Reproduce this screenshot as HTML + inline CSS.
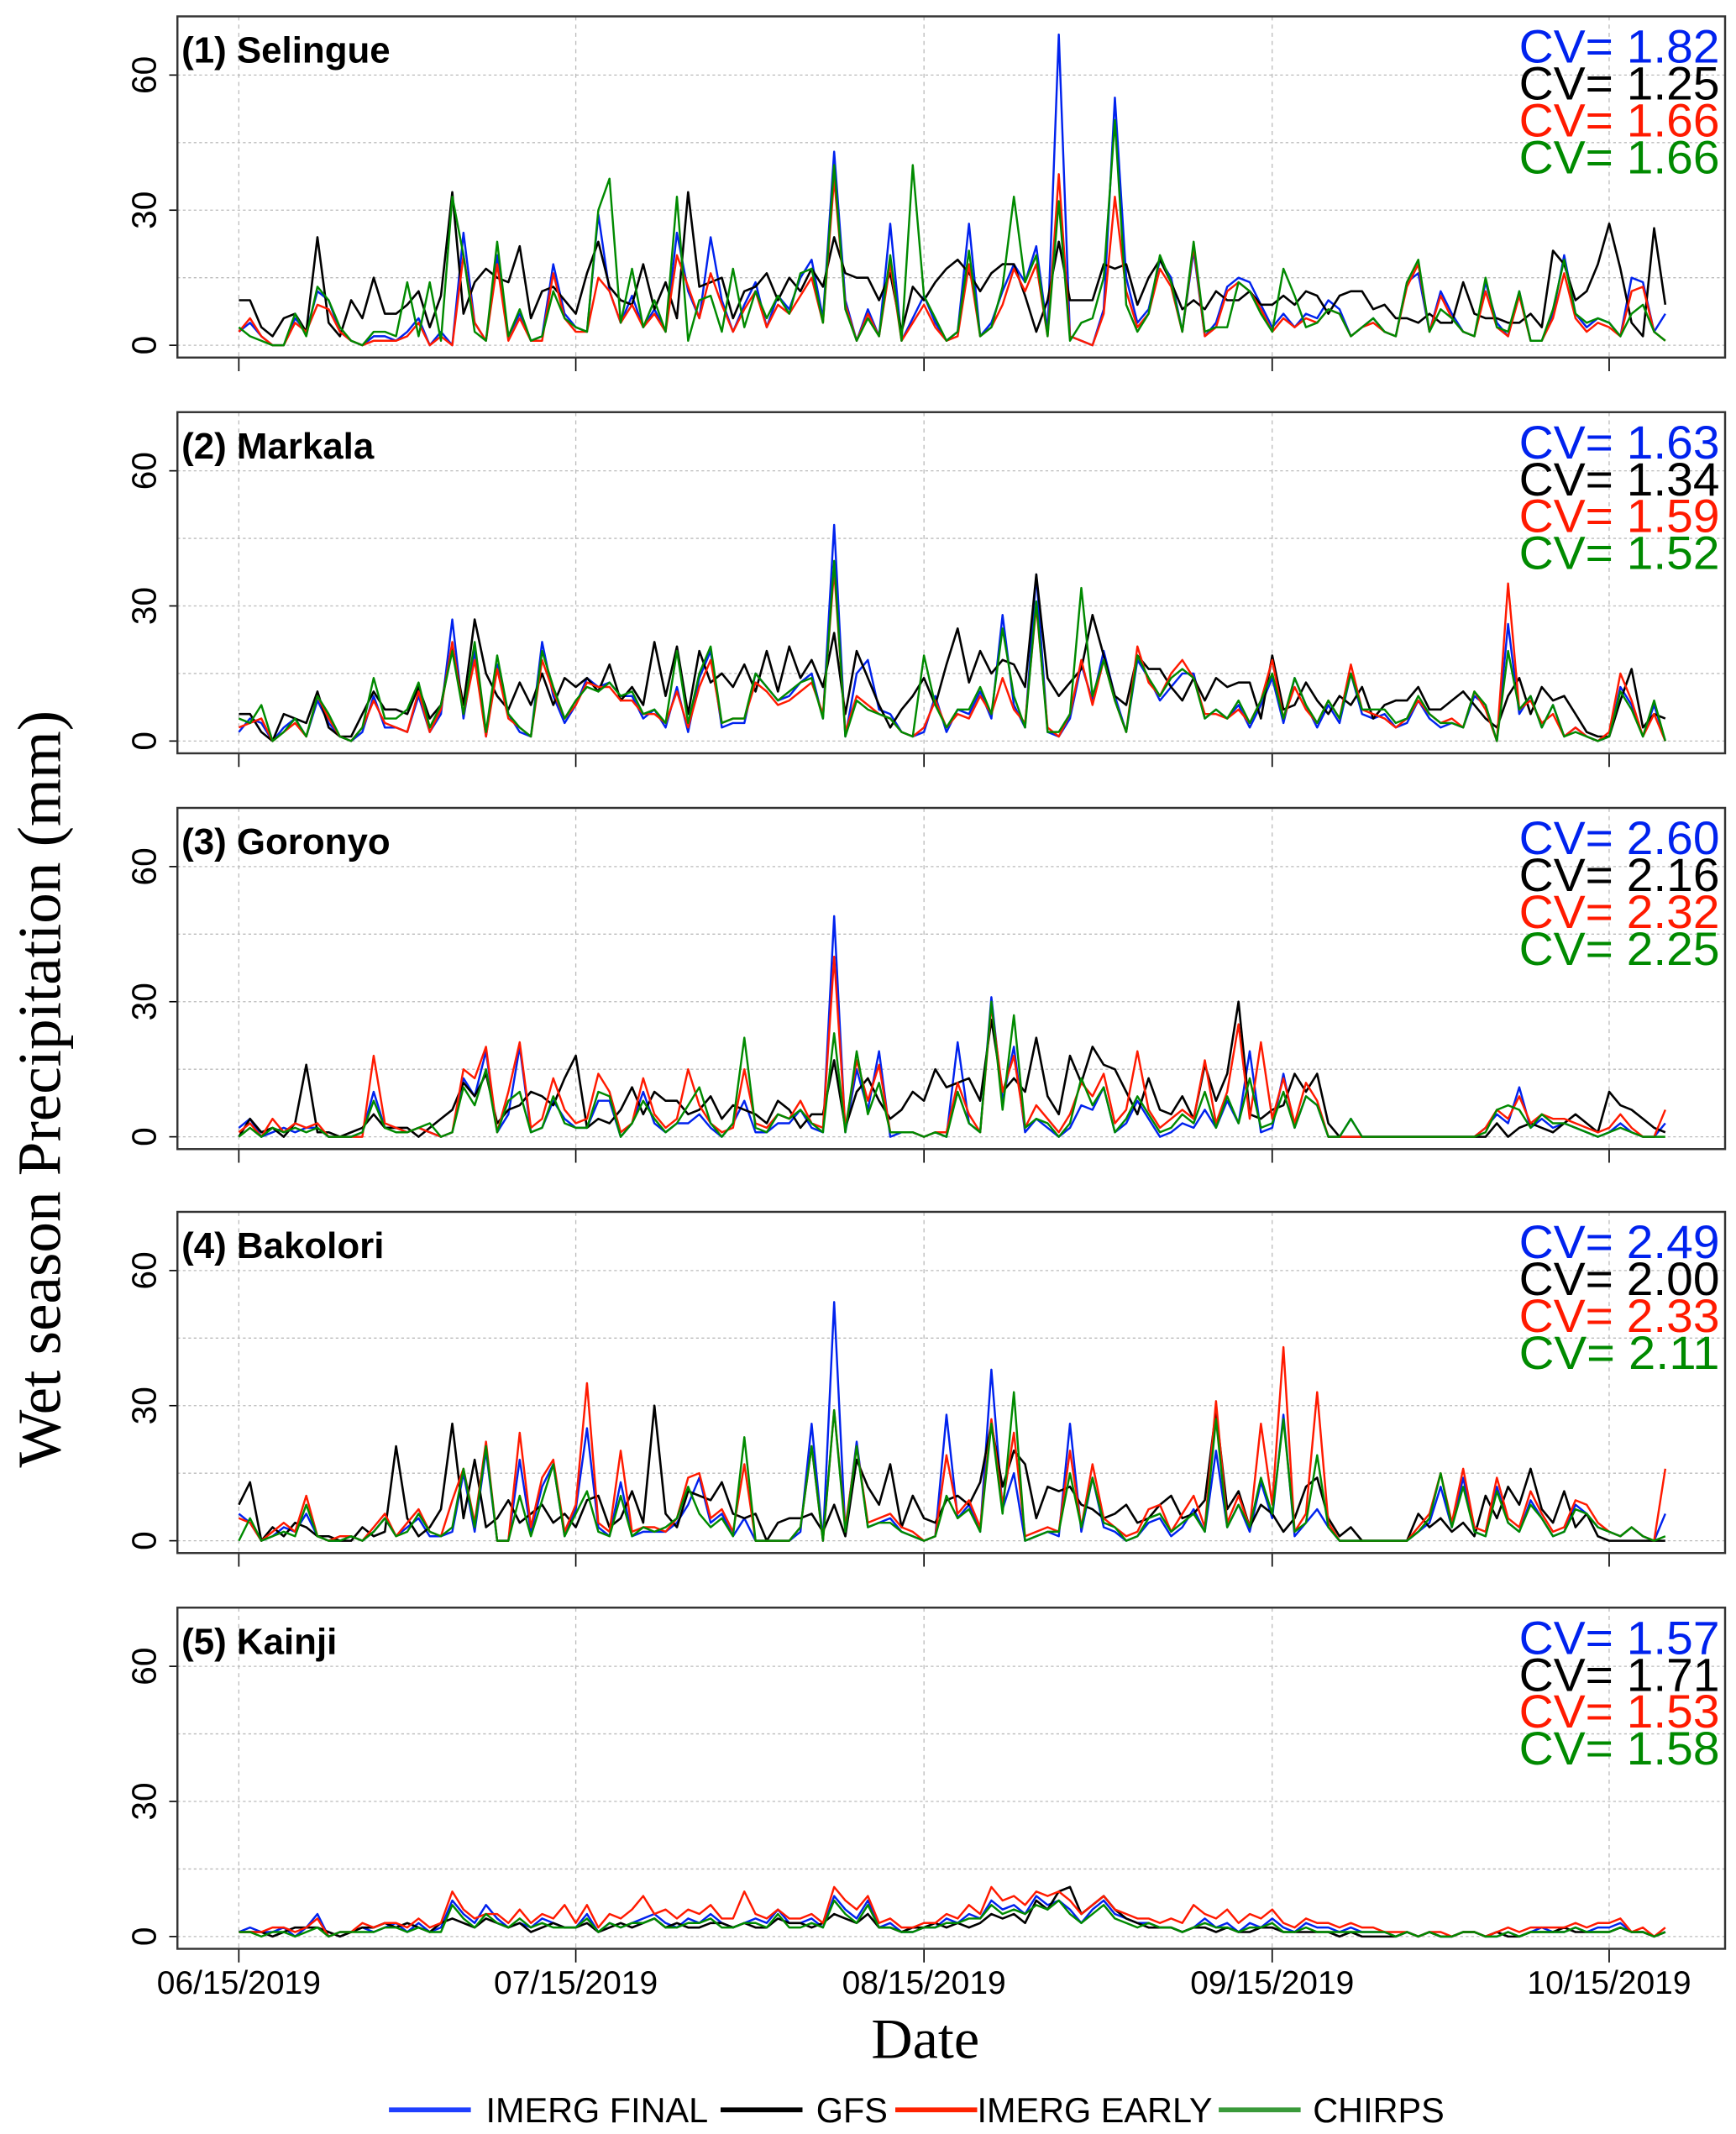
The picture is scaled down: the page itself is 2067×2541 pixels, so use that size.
<!DOCTYPE html>
<html><head><meta charset="utf-8"><style>
html,body{margin:0;padding:0;background:#fff}
svg{display:block}
</style></head><body>
<svg id="chart" width="2067" height="2541" viewBox="0 0 1272 1563.7" preserveAspectRatio="none" xmlns="http://www.w3.org/2000/svg" font-family="Liberation Sans, sans-serif"></svg>
<script>
const siteNames = ["(1) Selingue","(2) Markala","(3) Goronyo","(4) Bakolori","(5) Kainji"];
const cvFinal = ["1.82","1.63","2.60","2.49","1.57"];
const cvGfs = ["1.25","1.34","2.16","2.00","1.71"];
const cvEarly = ["1.66","1.59","2.32","2.33","1.53"];
const cvChirps = ["1.66","1.52","2.25","2.11","1.58"];
const dateTicks = [0,30,61,92,122];
const dateLabels = ["06/15/2019","07/15/2019","08/15/2019","09/15/2019","10/15/2019"];
const yTicks = [0,30,60];
const yGrid = [0,15,30,45,60];

const final1 = [3,5,2,0,0,6,3,12,10,3,1,0,2,2,1,3,6,0,3,0,25,5,1,20,2,7,1,2,18,7,4,3,29,12,5,11,4,8,3,25,12,6,24,10,3,9,14,4,11,8,15,19,6,43,10,1,8,2,27,1,6,11,5,1,3,27,2,5,12,18,14,22,3,69,2,1,0,8,55,15,5,8,19,15,3,21,2,5,13,15,14,9,4,7,4,7,6,10,8,2,4,6,3,2,14,16,3,12,7,3,2,14,5,2,12,1,1,7,20,7,4,6,5,2,15,14,3,7];
const early1 = [3,6,2,0,0,5,3,9,8,3,1,0,1,1,1,2,5,0,2,0,20,5,1,18,1,6,1,1,16,6,3,3,15,12,5,9,4,7,3,20,13,6,16,9,3,8,12,4,9,7,11,15,5,37,9,1,7,2,18,1,5,9,4,1,2,18,2,4,9,17,12,18,2,38,2,1,0,7,33,12,4,7,17,13,3,22,2,4,12,14,12,8,3,6,4,6,5,8,7,2,4,5,3,2,13,18,3,11,6,3,2,12,4,2,11,1,1,6,16,6,3,5,4,2,12,13,3,1];
const chirps1 = [4,2,1,0,0,7,2,13,10,4,1,0,3,3,2,14,2,14,1,33,20,3,1,23,2,8,1,2,12,6,4,3,30,37,5,17,4,10,3,33,1,10,11,3,17,4,12,6,11,7,16,17,5,40,8,1,6,2,20,1,40,11,6,1,3,21,2,4,13,33,14,20,2,32,1,5,6,15,50,9,3,7,20,14,3,23,3,4,4,14,12,7,3,17,11,4,5,8,7,2,4,6,3,2,14,19,3,8,6,3,2,15,4,3,12,1,1,8,19,7,5,6,5,2,7,9,3,1];
const gfs1 = [10,10,4,2,6,7,3,24,5,2,10,6,15,7,7,9,12,4,11,34,7,14,17,15,14,22,6,12,13,10,7,16,23,13,10,9,18,8,14,6,34,13,14,15,6,12,13,16,10,15,12,17,13,24,16,15,15,10,16,3,13,10,14,17,19,16,12,16,18,18,11,3,10,23,10,10,10,18,17,18,9,15,19,14,8,10,8,12,10,10,12,9,9,11,9,12,11,7,11,12,12,8,9,6,6,5,7,5,5,14,7,6,6,5,5,7,4,21,18,10,12,18,27,17,5,2,26,9];

const final2 = [2,5,4,0,3,5,1,9,4,1,0,2,10,3,3,2,10,2,6,27,5,20,1,17,6,2,1,22,10,4,8,14,12,13,10,10,5,7,3,12,2,14,20,3,4,4,15,12,9,10,13,15,5,48,1,15,18,7,6,2,1,2,10,2,7,6,11,5,28,8,3,37,2,1,5,17,9,20,10,2,18,14,9,12,15,15,5,7,5,8,3,8,14,4,14,8,3,8,4,15,6,5,6,3,4,9,5,3,4,3,10,8,0,26,6,10,3,8,1,3,1,0,1,12,8,1,8,0];
const early2 = [3,4,5,0,2,4,1,10,5,1,0,3,9,4,3,2,11,2,7,22,6,18,1,16,5,3,1,18,11,5,8,13,12,12,9,9,6,6,4,11,3,12,18,4,5,5,13,11,8,9,11,13,6,38,2,10,8,6,5,2,1,3,9,3,6,5,10,6,14,7,4,30,3,1,6,18,8,18,9,2,21,13,10,15,18,14,6,6,5,7,4,9,18,5,12,7,4,9,5,17,7,6,5,3,5,9,6,4,5,3,11,7,0,35,7,9,4,6,1,3,1,0,2,15,9,1,6,0];
const chirps2 = [5,4,8,0,2,5,1,10,6,1,0,3,14,5,5,7,13,3,8,20,6,22,2,19,6,3,1,20,12,5,9,12,11,13,10,11,6,7,4,20,4,15,21,4,5,5,15,12,9,11,13,14,5,40,1,9,7,6,5,2,1,19,8,3,7,7,12,6,25,10,3,31,2,2,6,34,10,18,9,2,19,14,10,14,16,14,5,7,5,9,4,9,15,5,14,8,4,9,5,15,7,7,7,4,5,10,6,4,4,3,11,8,0,20,7,10,3,8,1,2,1,0,1,11,7,1,9,0];
const gfs2 = [6,6,2,0,6,5,4,11,3,1,1,6,11,7,7,6,12,5,8,21,8,27,15,10,7,13,8,15,8,14,12,14,11,17,9,12,8,22,10,21,6,20,13,15,12,17,11,20,11,21,14,18,12,24,6,20,14,8,3,7,10,14,8,17,25,13,20,15,18,17,12,37,14,10,13,16,28,19,10,8,19,16,16,12,9,14,9,14,12,13,13,5,19,7,8,13,9,6,10,8,12,5,8,9,9,12,7,7,9,11,8,5,3,10,14,6,12,9,10,6,2,1,1,9,16,3,6,5];

const final3 = [2,4,0,1,2,1,2,2,0,0,0,1,10,2,2,1,2,1,0,1,13,9,19,1,5,20,1,2,8,4,2,2,8,8,0,3,10,3,1,3,3,5,2,0,3,8,1,1,3,3,6,2,1,49,1,15,6,19,0,1,1,0,1,0,21,3,1,31,8,20,1,4,2,0,2,7,6,11,1,3,8,4,0,1,3,2,6,2,8,3,19,1,2,14,2,9,7,0,0,4,0,0,0,0,0,0,0,0,0,0,0,2,5,3,11,2,4,2,3,2,1,0,1,3,1,0,0,3];
const early3 = [1,3,0,4,1,3,2,3,0,0,0,0,18,3,2,1,2,1,0,1,15,13,20,1,10,21,2,4,13,6,3,4,14,10,1,3,13,5,2,4,15,7,3,1,2,15,3,2,5,4,8,3,2,40,2,17,8,16,1,1,1,0,1,1,12,5,1,29,10,18,2,7,4,1,5,12,9,14,3,6,19,6,2,4,6,4,17,3,10,25,4,21,4,13,3,12,8,0,0,0,0,0,0,0,0,0,0,0,0,0,0,2,6,4,9,3,5,4,4,3,2,1,2,5,2,0,0,6];
const chirps3 = [0,2,0,2,1,2,1,2,0,0,0,1,8,2,1,1,2,3,0,1,11,7,15,1,8,10,1,2,9,3,2,2,10,9,0,3,8,4,1,3,7,11,3,0,3,22,2,1,5,4,6,3,1,23,1,19,5,12,1,1,1,0,1,0,10,3,1,30,6,27,2,4,3,0,3,13,7,11,1,4,9,5,1,2,5,3,10,2,9,3,13,2,3,10,2,9,7,0,0,4,0,0,0,0,0,0,0,0,0,0,0,1,6,7,6,2,5,3,3,2,1,0,1,2,1,0,0,0];
const gfs3 = [0,4,1,2,0,3,16,1,1,0,1,2,5,2,2,2,0,2,4,6,12,9,14,3,6,7,10,9,7,13,18,2,4,3,6,11,5,10,8,8,5,6,9,4,7,6,5,3,8,6,2,5,5,17,2,10,13,8,4,6,10,8,15,11,12,13,8,26,10,13,10,22,9,5,18,12,20,16,15,10,5,13,6,5,9,4,16,8,14,30,5,4,6,7,14,10,14,3,0,0,0,0,0,0,0,0,0,0,0,0,0,0,3,0,2,3,2,1,3,5,3,1,10,7,6,4,2,1];

const final4 = [6,4,0,1,3,2,6,1,0,0,1,0,2,5,1,3,5,1,1,2,15,2,20,0,0,18,2,12,17,1,7,25,3,1,13,1,2,2,2,4,8,14,4,6,1,5,0,0,0,0,2,26,0,53,2,22,3,4,5,2,1,0,1,28,5,8,2,38,7,15,0,1,2,1,26,2,14,3,2,0,1,4,5,1,3,7,2,20,3,8,2,13,5,28,1,4,7,3,0,0,0,0,0,0,0,2,4,12,3,14,2,1,12,4,2,9,5,1,2,8,6,3,2,1,3,1,0,6];
const early4 = [5,4,0,2,4,2,10,1,0,1,1,0,3,6,1,4,7,2,1,9,16,4,22,0,0,24,3,14,18,2,8,35,4,2,20,2,3,3,2,5,14,15,5,7,2,17,0,0,0,0,3,21,0,29,3,21,4,5,6,3,2,0,1,19,6,9,3,27,8,24,1,2,3,2,20,3,17,5,3,1,2,7,8,2,6,10,3,31,4,10,3,26,8,43,2,6,33,4,0,0,0,0,0,0,0,3,6,15,4,16,3,2,14,5,3,11,6,2,3,9,8,4,2,1,3,1,0,16];
const chirps4 = [0,5,0,1,2,1,8,1,0,0,1,0,2,5,1,2,6,2,1,3,16,3,21,0,0,10,1,9,17,1,6,11,2,1,10,1,3,2,3,5,12,6,3,5,1,23,0,0,0,0,3,21,0,29,2,21,3,4,4,2,1,0,1,10,5,7,2,26,6,33,0,1,2,2,15,3,14,4,3,0,1,5,6,2,4,6,2,27,3,8,3,14,6,27,2,4,19,3,0,0,0,0,0,0,0,2,5,15,3,12,2,1,11,4,2,8,5,1,2,7,6,3,2,1,3,1,0,1];
const gfs4 = [8,13,0,3,1,4,3,1,1,0,0,3,1,2,21,5,1,3,7,26,5,18,3,5,9,4,6,8,4,6,3,9,10,3,5,11,4,30,6,3,11,10,9,13,6,5,6,0,4,5,5,6,2,8,1,18,12,8,17,3,10,5,4,9,10,8,13,26,12,20,17,5,12,11,12,8,7,5,6,8,4,5,8,10,5,6,9,29,7,11,3,8,6,2,5,12,14,5,1,3,0,0,0,0,0,6,3,5,2,4,1,10,5,12,8,16,7,4,11,3,6,1,0,0,0,0,0,0];

const final5 = [1,2,1,1,2,0,2,5,0,1,1,2,1,2,3,1,3,1,2,8,5,3,7,4,2,3,2,4,3,2,2,5,1,3,2,3,4,5,3,2,4,3,5,3,2,3,4,3,6,3,3,4,2,9,6,4,8,2,3,1,1,2,2,4,3,5,4,8,6,7,5,9,7,8,6,3,6,8,5,4,3,3,2,2,1,2,4,2,3,1,3,2,4,2,1,3,2,2,1,2,1,1,1,0,1,0,1,0,0,1,1,0,0,1,0,1,2,1,1,2,1,2,2,3,1,1,0,1];
const early5 = [1,1,1,2,2,1,2,4,0,1,1,3,2,3,3,2,4,2,3,10,6,4,5,5,3,6,3,5,4,7,3,7,2,5,4,6,9,5,6,4,6,5,7,4,4,10,5,4,6,4,4,5,3,11,8,6,9,3,4,2,2,3,3,5,4,7,5,11,8,9,7,10,9,10,8,5,7,9,6,5,4,4,3,4,3,7,5,4,6,3,5,4,6,3,2,4,3,3,2,3,2,2,1,1,1,0,1,1,0,1,1,0,1,2,1,2,2,2,2,3,2,3,3,4,1,2,0,2];
const chirps5 = [1,1,0,1,1,0,1,2,0,1,1,1,1,2,2,1,2,1,1,7,4,2,5,3,2,4,2,3,2,2,2,4,1,3,2,3,3,4,2,2,3,3,4,2,2,3,3,2,5,2,2,3,2,8,5,3,7,2,2,1,1,2,2,3,3,4,4,7,5,6,5,7,6,8,5,3,5,7,4,3,2,3,2,2,1,2,3,2,2,1,2,2,3,1,1,2,1,1,1,1,1,1,1,0,1,0,1,0,0,1,1,0,0,1,0,1,1,1,1,2,1,1,1,2,1,1,0,1];
const gfs5 = [1,1,1,0,1,2,2,2,1,0,1,2,2,3,2,3,2,1,3,4,3,2,4,3,2,3,1,2,3,2,2,3,1,2,3,2,3,4,2,3,2,2,3,3,2,3,2,2,4,3,3,2,3,5,4,3,5,2,2,1,2,2,3,2,3,2,3,5,4,5,3,8,6,10,11,5,7,9,6,4,3,2,2,2,1,2,2,1,2,1,1,2,2,1,1,1,1,1,0,1,0,0,0,0,1,0,1,0,0,1,1,0,1,0,0,1,1,1,2,1,1,1,1,2,1,1,0,1];

const panelFinal = [final1,final2,final3,final4,final5];
const panelEarly = [early1,early2,early3,early4,early5];
const panelChirps = [chirps1,chirps2,chirps3,chirps4,chirps5];
const panelGfs = [gfs1,gfs2,gfs3,gfs4,gfs5];

const NS="http://www.w3.org/2000/svg";
const svg=document.getElementById('chart');
function mk(tag,attrs,parent){const e=document.createElementNS(NS,tag);for(const k in attrs)e.setAttribute(k,attrs[k]);(parent||svg).appendChild(e);return e;}
const boxL=130, boxR=1264;
const x0=175, pxPerDay=8.23;
function xScale(i){return x0+i*pxPerDay;}
const panelTops=[12,302,592,888,1178];
const COL={final:"#0022ee",gfs:"#000000",early:"#ff1a00",chirps:"#008a00"};

panelTops.forEach((top,p)=>{
  const g=mk('g',{});
  
  
  const bottom=top+250, zeroY=top+241, unit=(241-43)/60;
  const yScale=v=>zeroY-v*unit;
  dateTicks.forEach(d=>{
    const l=mk('line',{x1:xScale(d),x2:xScale(d),y1:top,y2:bottom,stroke:'#bbb','stroke-width':0.8,'stroke-dasharray':'3,3'},g);
    
    
    const t=mk('line',{x1:xScale(d),x2:xScale(d),y1:bottom,y2:bottom+10,stroke:'#000','stroke-width':1},g);
    
    
  });
  yGrid.forEach(v=>{
    const l=mk('line',{x1:boxL,x2:boxR,y1:yScale(v),y2:yScale(v),stroke:'#bbb','stroke-width':0.8,'stroke-dasharray':'2,2'},g);
    
    
  });
  yTicks.forEach(v=>{
    const t=mk('line',{x1:boxL-6,x2:boxL,y1:yScale(v),y2:yScale(v),stroke:'#000','stroke-width':1},g);
    
    
    const tx=mk('text',{x:0,y:0,transform:`translate(${boxL-16},${yScale(v)}) rotate(-90)`,'text-anchor':'middle','font-size':25,fill:'#000'},g);
    tx.textContent=v;
    
    
  });
  [["final",panelFinal[p]],["gfs",panelGfs[p]],["early",panelEarly[p]],["chirps",panelChirps[p]]].forEach(([k,arr])=>{
    const pts=arr.map((v,i)=>xScale(i).toFixed(1)+','+yScale(v).toFixed(1)).join(' ');
    const pl=mk('polyline',{points:pts,fill:'none',stroke:COL[k],'stroke-width':k==='gfs'?1.6:1.5,'stroke-linejoin':'round'},g);
    
    
  });
  const box=mk('rect',{x:boxL,y:top,width:boxR-boxL,height:250,fill:'none',stroke:'#333','stroke-width':1.5},g);
  
  
  const title=mk('text',{x:133,y:top+34,'font-size':27,'font-weight':'bold',fill:'#000'},g);
  title.textContent=siteNames[p];
  
  
  const cvs=[[cvFinal[p],COL.final],[cvGfs[p],COL.gfs],[cvEarly[p],COL.early],[cvChirps[p],COL.chirps]];
  cvs.forEach(([c,col],j)=>{
    const t=mk('text',{x:1260,y:top+34+j*27,'text-anchor':'end','font-size':34,fill:col,textLength:147,lengthAdjust:'spacingAndGlyphs'},g);
    t.textContent='CV= '+c;
    
    
  });
});

dateTicks.forEach((d,i)=>{
  const t=mk('text',{x:xScale(d),y:1461,'text-anchor':'middle','font-size':24,fill:'#000'});
  t.textContent=dateLabels[i];
  
  
});
const xt=mk('text',{x:678,y:1508,'text-anchor':'middle','font-size':42,'font-family':'Liberation Serif, serif',fill:'#000'});
xt.textContent='Date';


const yt=mk('text',{x:0,y:0,transform:'translate(44,798) rotate(-90)','text-anchor':'middle','font-size':45,'font-family':'Liberation Serif, serif',fill:'#000'});
yt.textContent='Wet season Precipitation (mm)';



const legendItems=[["IMERG FINAL","#1f3fff",285,356],["GFS","#000",528,598],["IMERG EARLY","#ff2200",656,716],["CHIRPS","#3a9a3a",893,962]];
legendItems.forEach(([lab,col,lx,tx])=>{
  const g=mk('g',{});
  
  
  mk('line',{x1:lx,x2:lx+60,y1:1546,y2:1546,stroke:col,'stroke-width':3.5},g);
  const t=mk('text',{x:tx,y:1555,'font-size':25.5,fill:'#000'},g);
  t.textContent=lab;
});
</script>
</body></html>
